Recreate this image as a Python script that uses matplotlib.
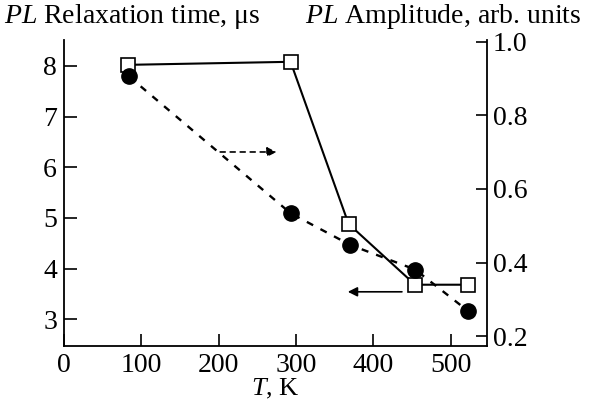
import matplotlib
matplotlib.use("Agg")
import matplotlib.pyplot as plt

# Data
T_tau = [83, 293, 368, 454, 522]
tau = [8.02, 8.08, 4.88, 3.68, 3.68]
T_amp = [84, 293, 370, 454, 522]
amp = [0.906, 0.534, 0.448, 0.381, 0.269]

x_ticks = [0, 100, 200, 300, 400, 500]
left_ticks = [3, 4, 5, 6, 7, 8]
right_ticks = [0.2, 0.4, 0.6, 0.8, 1.0]
right_tick_labels = ["0.2", "0.4", "0.6", "0.8", "1.0"]

plt.rcParams['font.family'] = ['Liberation Serif', 'DejaVu Serif']
plt.rcParams['mathtext.fontset'] = 'custom'
plt.rcParams['mathtext.rm'] = 'Liberation Serif'
plt.rcParams['mathtext.it'] = 'Liberation Serif:italic'

fs = 20
fig = plt.figure(figsize=(5.98, 4.03), dpi=100)
ax = fig.add_axes([0.107, 0.1414, 0.7074, 0.7593])
ax2 = ax.twinx()

ax.set_xlim(0, 547)
ax.set_ylim(2.47, 8.51)
ax2.set_ylim(0.173, 1.005)

ax.plot(T_tau, tau, color='black', lw=1.5, marker='s', ms=9.5,
        mfc='white', mec='black', mew=1.2, zorder=3)
ax2.plot(T_amp, amp, color='black', lw=1.7, ls=(0, (3, 3.5)), marker='o',
         ms=11, mfc='black', mec='black', zorder=3)

# arrows
ax.annotate('', xy=(275, 6.3), xytext=(202, 6.3),
            arrowprops=dict(arrowstyle='-|>', color='black', lw=1.2,
                            ls=(0, (3, 3)), mutation_scale=14,
                            shrinkA=0, shrinkB=0))
ax.annotate('', xy=(367, 3.54), xytext=(437, 3.54),
            arrowprops=dict(arrowstyle='-|>', color='black', lw=1.2,
                            mutation_scale=14, shrinkA=0, shrinkB=0))

for a in (ax, ax2):
    a.spines['top'].set_visible(False)
    for s in a.spines.values():
        s.set_linewidth(1.3)

ax.spines['right'].set_visible(False)
ax2.spines['left'].set_visible(False)
ax2.spines['bottom'].set_visible(False)

ax.set_xticks(x_ticks)
ax.set_yticks(left_ticks)
ax2.set_yticks(right_ticks)
ax2.set_yticklabels(right_tick_labels)

ax.tick_params(axis='both', direction='in', length=9, width=1.2,
               labelsize=fs, pad=5)
ax.tick_params(axis='x', pad=5)
ax2.tick_params(axis='y', direction='in', length=8, width=1.2,
                labelsize=fs, pad=4)

fig.text(0.461, 0.004, r'$\it{T}$, K', fontsize=19, ha='center', va='bottom')

fig.text(0.006, 0.942, r'$\it{PL}$ Relaxation time, μs', fontsize=fs,
         ha='left', va='baseline')
fig.text(0.972, 0.942, r'$\it{PL}$ Amplitude, arb. units', fontsize=fs,
         ha='right', va='baseline')

fig.savefig('out.png', dpi=100)
